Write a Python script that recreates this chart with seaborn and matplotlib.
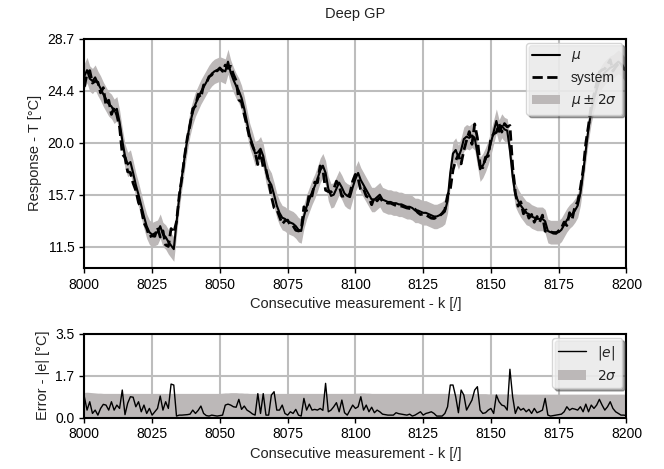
import matplotlib
matplotlib.use("Agg")
import matplotlib.pyplot as plt
import numpy as np
import seaborn as sns

# measurement index 8000..8200
k = np.arange(8000, 8201)

# GP mean prediction [°C]
mu = [
    25.6, 26.1, 25.4, 25.2, 25.5, 25.0, 24.6, 24.1, 23.7, 23.3,
    23.1, 22.7, 22.9, 21.8, 20.3, 19.0, 18.3, 18.5, 17.6, 16.6,
    15.8, 14.9, 14.0, 13.2, 12.7, 12.5, 12.6, 12.7, 13.2, 12.5,
    12.3, 11.9, 11.6, 11.3, 13.5, 15.6, 17.3, 18.9, 20.4, 21.7,
    22.6, 23.3, 23.8, 24.3, 24.7, 25.1, 25.5, 25.8, 26.0, 26.1,
    26.2, 26.1, 26.0, 26.8, 25.9, 25.3, 24.8, 24.4, 23.8, 22.9,
    21.8, 20.7, 20.0, 19.2, 19.3, 19.6, 19.0, 17.8, 17.0, 16.6,
    15.8, 14.9, 14.3, 13.9, 13.8, 13.6, 13.5, 13.4, 13.2, 12.9,
    12.8, 14.0, 14.8, 15.4, 16.0, 16.5, 17.1, 17.8, 18.2, 17.6,
    16.3, 15.7, 15.8, 16.3, 16.8, 16.4, 15.9, 15.7, 15.6, 16.4,
    17.1, 17.6, 17.0, 16.6, 16.2, 15.8, 15.4, 15.4, 15.6, 15.8,
    15.4, 15.3, 15.2, 15.2, 15.1, 15.1, 15.0, 15.0, 14.9, 14.8,
    14.8, 14.7, 14.5, 14.5, 14.4, 14.3, 14.3, 14.2, 14.1, 14.0,
    14.0, 14.1, 14.2, 14.4, 15.3, 17.6, 19.2, 19.5, 18.9, 19.5,
    20.4, 20.6, 20.5, 20.7, 20.5, 19.2, 17.9, 18.2, 18.7, 19.3,
    20.1, 21.0, 21.9, 21.0, 21.5, 21.2, 21.1, 19.5, 17.3, 15.8,
    15.3, 14.9, 14.6, 14.3, 14.2, 14.0, 13.9, 13.8, 13.8, 13.8,
    13.6, 12.8, 12.7, 12.7, 12.7, 12.7, 12.9, 13.3, 13.7, 14.0,
    14.2, 14.5, 14.9, 15.9, 17.6, 19.5, 21.3, 22.7, 23.7, 24.5,
    25.2, 25.6, 25.9, 26.1, 26.3, 26.4, 26.6, 26.8, 26.6, 26.3,
    26.0,
]

# measured system response [°C]
system = [
    24.73, 25.79, 26.06, 25.03, 25.19, 25.10, 24.22, 24.65, 23.18, 23.61,
    22.44, 23.01, 22.38, 21.42, 19.15, 18.88, 17.70, 17.63, 16.75, 16.15,
    15.14, 14.66, 13.48, 13.03, 12.32, 12.40, 12.36, 13.08, 12.30, 12.81,
    11.64, 11.52, 13.00, 12.66, 13.56, 15.70, 17.20, 19.01, 20.52, 21.56,
    22.91, 23.13, 24.10, 23.82, 24.87, 25.02, 25.56, 25.70, 26.08, 26.04,
    26.28, 26.00, 26.52, 26.24, 26.42, 25.75, 25.23, 23.64, 23.46, 22.42,
    21.49, 20.46, 19.85, 19.30, 18.30, 19.43, 18.00, 17.90, 16.90, 15.66,
    14.72, 14.59, 13.99, 13.38, 13.63, 13.70, 13.26, 13.23, 12.86, 12.80,
    12.86, 14.80, 14.49, 15.96, 15.69, 16.84, 16.79, 18.18, 17.90, 16.17,
    16.06, 16.01, 16.25, 16.92, 16.56, 15.67, 15.70, 15.60, 15.91, 16.92,
    17.48, 17.15, 16.13, 16.29, 15.68, 15.56, 14.97, 15.60, 15.29, 15.56,
    15.26, 15.18, 15.10, 15.10, 15.00, 14.90, 14.84, 14.86, 14.78, 14.70,
    14.66, 14.64, 14.60, 14.33, 14.16, 14.20, 14.13, 14.00, 13.86, 13.83,
    13.94, 14.04, 14.26, 14.57, 15.75, 16.24, 17.84, 18.63, 19.10, 18.35,
    19.46, 20.29, 21.02, 19.97, 21.65, 20.49, 18.21, 18.03, 18.90, 18.99,
    20.48, 20.83, 20.96, 21.66, 20.98, 21.68, 21.41, 21.52, 18.17, 15.97,
    14.85, 15.21, 14.22, 14.54, 13.86, 14.17, 13.52, 14.00, 13.55, 14.11,
    12.80, 12.70, 12.76, 12.62, 12.60, 12.82, 13.04, 13.54, 13.25, 14.31,
    13.82, 14.85, 15.21, 16.35, 17.84, 20.06, 21.54, 23.22, 24.08, 25.02,
    25.96, 26.12, 26.21, 26.55, 26.96, 26.02, 26.36, 26.63, 26.70, 26.20,
    26.08,
]

# two standard deviations of the prediction [°C]
two_sigma = [
    1.05, 1.06, 1.05, 1.04, 1.03, 1.02, 1.02, 1.01, 1.01, 1.01,
    1.01, 1.01, 1.01, 1.01, 1.01, 1.01, 1.01, 1.01, 1.01, 1.01,
    1.01, 1.01, 1.01, 1.01, 1.01, 1.01, 1.01, 1.01, 1.01, 1.01,
    1.01, 1.01, 1.01, 1.01, 1.01, 1.01, 1.01, 1.01, 1.01, 1.01,
    1.01, 1.01, 1.01, 1.01, 1.01, 1.01, 1.01, 1.01, 1.01, 1.01,
    1.01, 1.02, 1.03, 1.03, 1.04, 1.04, 1.04, 1.03, 1.03, 1.02,
    1.02, 1.01, 1.01, 1.01, 1.01, 1.01, 1.01, 1.01, 1.01, 1.01,
    1.01, 1.01, 1.01, 1.01, 1.01, 1.01, 1.01, 1.01, 1.01, 1.01,
    1.01, 1.01, 1.01, 1.01, 1.01, 1.01, 1.01, 1.01, 1.01, 1.01,
    1.01, 1.01, 1.01, 1.01, 1.01, 1.01, 1.01, 1.01, 1.01, 1.01,
    1.02, 1.02, 1.03, 1.03, 1.02, 1.02, 1.01, 1.01, 1.01, 1.01,
    1.01, 1.01, 1.01, 1.01, 1.01, 1.01, 1.01, 1.01, 1.01, 1.01,
    1.01, 1.01, 1.01, 1.01, 1.01, 1.01, 1.01, 1.01, 1.01, 1.01,
    1.01, 1.01, 1.01, 1.01, 1.01, 1.01, 1.01, 1.00, 1.00, 1.00,
    1.00, 1.00, 1.00, 1.00, 1.00, 1.00, 1.00, 1.00, 1.00, 0.99,
    0.99, 0.99, 0.99, 0.99, 0.99, 0.99, 0.99, 0.99, 0.99, 0.99,
    0.98, 0.98, 0.98, 0.98, 0.98, 0.98, 0.98, 0.98, 0.98, 0.98,
    0.98, 0.98, 0.98, 0.98, 0.98, 0.98, 0.98, 0.98, 0.98, 0.98,
    0.98, 0.98, 0.98, 0.98, 0.98, 0.98, 0.98, 0.98, 0.98, 0.98,
    0.98, 0.98, 0.98, 0.98, 0.98, 0.98, 0.98, 0.98, 0.98, 0.98,
    0.98,
]

x_ticks = [8000, 8025, 8050, 8075, 8100, 8125, 8150, 8175, 8200]
resp_ticks = [11.5, 15.8, 20.1, 24.4, 28.7]
resp_labels = ["11.5", "15.7", "20.0", "24.4", "28.7"]
err_ticks = [0.0, 1.75, 3.5]
err_labels = ["0.0", "1.7", "3.5"]

sns.set_theme(style="ticks")
plt.rcParams["font.family"] = ["Liberation Sans", "DejaVu Sans"]
plt.rcParams["font.size"] = 10
plt.rcParams["axes.labelsize"] = 10.5
plt.rcParams["axes.edgecolor"] = "black"
plt.rcParams["axes.linewidth"] = 1.5
plt.rcParams["xtick.color"] = "black"
plt.rcParams["ytick.color"] = "black"
plt.rcParams["text.color"] = "#222222"
plt.rcParams["axes.labelcolor"] = "#222222"

mu_a = np.asarray(mu)
sys_a = np.asarray(system)
sig_a = np.asarray(two_sigma)
err = np.abs(mu_a - sys_a)

fig = plt.figure(figsize=(6.64, 4.69), dpi=100)
ax1 = fig.add_axes([0.127, 0.4286, 0.8165, 0.4889])
ax2 = fig.add_axes([0.127, 0.1098, 0.8165, 0.1782])

band_col = "#bcb8b8"
grid_kw = dict(color="#bdbdbd", linewidth=1.5)

# ── Response ────────────────────────────────────────────────
ax1.fill_between(k, mu_a - sig_a, mu_a + sig_a, color=band_col,
                 linewidth=0, label=r"$\mu \pm 2\sigma$", zorder=2)
sns.lineplot(x=k, y=mu_a, ax=ax1, color="black", linewidth=1.5,
             label=r"$\mu$", zorder=3)
sns.lineplot(x=k, y=sys_a, ax=ax1, color="black", linewidth=2.0,
             linestyle="--", label="system", zorder=3)
ax1.set_xlim(8000, 8200)
ax1.set_ylim(9.74, 28.7)
ax1.set_xticks(x_ticks)
ax1.set_yticks(resp_ticks)
ax1.set_yticklabels(resp_labels)
ax1.grid(True, **grid_kw)
ax1.set_axisbelow(True)
ax1.set_title("Deep GP", fontsize=10.5, pad=15)
ax1.set_xlabel("Consecutive measurement - k [/]")
ax1.set_ylabel("Response - T [°C]")
h, l = ax1.get_legend_handles_labels()
order = [l.index(r"$\mu$"), l.index("system"), l.index(r"$\mu \pm 2\sigma$")]
ax1.legend([h[i] for i in order], [l[i] for i in order], loc="upper right",
           shadow=True, fancybox=True, framealpha=0.8, fontsize=10,
           borderaxespad=0.3)

# ── Error ───────────────────────────────────────────────────
ax2.fill_between(k, 0, sig_a, color=band_col, linewidth=0,
                 label=r"$2\sigma$", zorder=2)
sns.lineplot(x=k, y=err, ax=ax2, color="black", linewidth=1.0,
             label=r"$|e|$", zorder=3)
ax2.set_xlim(8000, 8200)
ax2.set_ylim(0, 3.5)
ax2.set_xticks(x_ticks)
ax2.set_yticks(err_ticks)
ax2.set_yticklabels(err_labels)
ax2.grid(True, **grid_kw)
ax2.set_axisbelow(True)
ax2.set_xlabel("Consecutive measurement - k [/]")
ax2.set_ylabel("Error - |e| [°C]")
h, l = ax2.get_legend_handles_labels()
order = [l.index(r"$|e|$"), l.index(r"$2\sigma$")]
ax2.legend([h[i] for i in order], [l[i] for i in order], loc="upper right",
           shadow=True, fancybox=True, framealpha=0.8, fontsize=10,
           borderaxespad=0.3)

for ax in (ax1, ax2):
    ax.tick_params(direction="out", length=3.5, width=1.0, labelsize=10)
    for s in ax.spines.values():
        s.set_visible(True)
        s.set_color("black")

fig.savefig("out.png", dpi=100)
